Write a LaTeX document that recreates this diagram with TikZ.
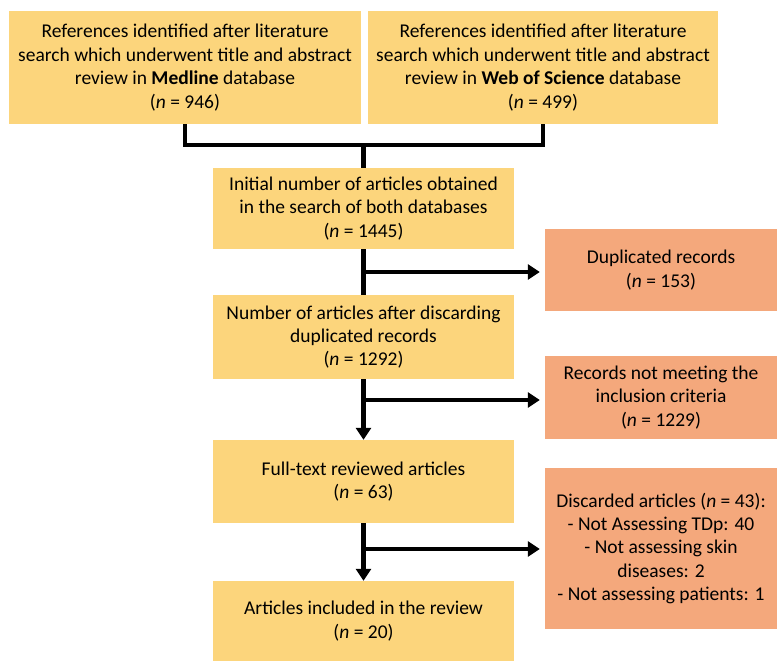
\documentclass[tikz,border=0pt]{standalone}
\usepackage{fontspec}
\setmainfont{Carlito}
\usetikzlibrary{arrows.meta}
\definecolor{ybox}{RGB}{252,213,124}
\definecolor{obox}{RGB}{244,168,124}
\tikzset{
  x=1pt, y=-1pt,
  boxbase/.style={inner sep=0pt, align=center, font=\fontsize{19.5}{23.4}\selectfont, text=black},
  ylw/.style={boxbase, fill=ybox},
  org/.style={boxbase, fill=obox},
  conn/.style={line width=4.5pt, black},
  arr/.style={conn, -{Triangle[length=12pt,width=15pt]}},
}
\begin{document}
\begin{tikzpicture}
\useasboundingbox (0,0) rectangle (777,661);
\node[ylw, minimum width=352pt, minimum height=113pt] (tl) at (185,67.5)
  {References identified after literature\\search which underwent title and abstract\\review in \textbf{Medline} database\\(\textit{n} = 946)};
\node[ylw, minimum width=350pt, minimum height=113pt] (tr) at (543,67.5)
  {References identified after literature\\search which underwent title and abstract\\review in \textbf{Web of Science} database\\(\textit{n} = 499)};
\node[ylw, minimum width=301pt, minimum height=81pt] (b2) at (363.5,208.5)
  {Initial number of articles obtained\\in the search of both databases\\(\textit{n} = 1445)};
\node[org, minimum width=232pt, minimum height=82pt] (dup) at (661,270)
  {Duplicated records\\(\textit{n} = 153)};
\node[ylw, minimum width=301pt, minimum height=84pt] (b3) at (363.5,337)
  {Number of articles after discarding\\duplicated records\\(\textit{n} = 1292)};
\node[org, minimum width=232pt, minimum height=83pt] (rec) at (661,397.5)
  {Records not meeting the\\inclusion criteria\\(\textit{n} = 1229)};
\node[ylw, minimum width=301pt, minimum height=83pt] (b4) at (363.5,481.5)
  {Full-text reviewed articles\\(\textit{n} = 63)};
\node[org, minimum width=232pt, minimum height=161pt] (disc) at (661,548.5)
  {Discarded articles (\textit{n} = 43):\\- Not Assessing TDp: 40\\- Not assessing skin\\diseases: 2\\- Not assessing patients: 1};
\node[ylw, minimum width=301pt, minimum height=80pt] (b5) at (363.5,621)
  {Articles included in the review\\(\textit{n} = 20)};
\coordinate (j) at (363.5,145);
\coordinate (a1) at (363.5,272);
\coordinate (a2) at (363.5,400);
\coordinate (a3) at (363.5,549);
\draw[conn] (tl.south) |- (j) -| (tr.south);
\draw[conn] (j) -- (b2.north);
\draw[conn] (b2.south) -- (b3.north);
\draw[arr, shorten >=5pt] (a1) -- (a1 -| dup.west);
\draw[arr] (b3.south) -- (b4.north);
\draw[arr, shorten >=5pt] (a2) -- (a2 -| rec.west);
\draw[arr] (b4.south) -- (b5.north);
\draw[arr, shorten >=5pt] (a3) -- (a3 -| disc.west);
\end{tikzpicture}
\end{document}
